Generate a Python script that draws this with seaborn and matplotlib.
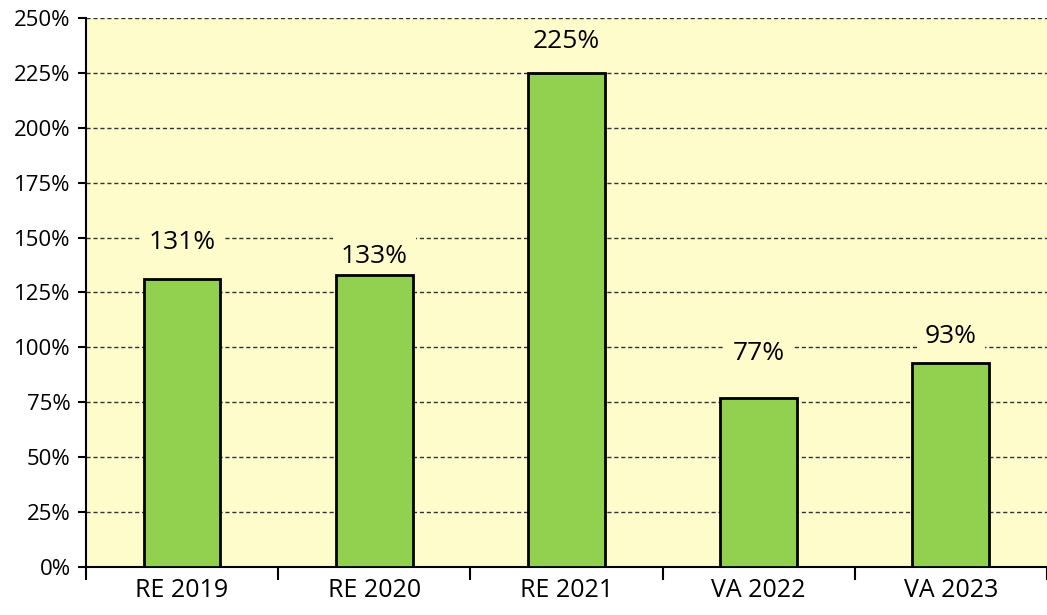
import pandas as pd
import matplotlib.pyplot as plt
import seaborn as sns
from matplotlib.ticker import FixedLocator, PercentFormatter

categories = ["RE 2019", "RE 2020", "RE 2021", "VA 2022", "VA 2023"]
values = [131, 133, 225, 77, 93]

# labels were nudged by hand in the original, gap above each bar in points
label_gap = [22, 8.5, 17.5, 27, 14.5]

df = pd.DataFrame({"year": categories, "pct": values})

sns.set_style("white")
plt.rcParams["font.family"] = ["Open Sans", "DejaVu Sans"]
plt.rcParams["text.color"] = "black"
plt.rcParams["xtick.color"] = "black"
plt.rcParams["ytick.color"] = "black"

fig = plt.figure(figsize=(10.47, 6.15), dpi=100)
ax = fig.add_axes([0.082, 0.078, 0.918, 0.893])
bg = "#FFFCCB"
ax.set_facecolor(bg)

sns.barplot(data=df, x="year", y="pct", color="#92D050", edgecolor="black",
            linewidth=2, width=0.4, saturation=1, ax=ax, zorder=3)

ax.set_xlim(-0.5, len(categories) - 0.5)
ax.set_ylim(0, 250)
ax.set_yticks(range(0, 251, 25))
ax.yaxis.set_major_formatter(PercentFormatter(decimals=0))
ax.grid(axis="y", linestyle=(0, (3, 2)), color="#333333", linewidth=1)
ax.set_axisbelow(True)

# labels above bars, box in background colour hides the grid (but not the bars)
for i, v in enumerate(values):
    ax.annotate(f"{v}%", (i, v), xytext=(0, label_gap[i]), textcoords="offset points",
                ha="center", va="baseline", fontsize=19, color="black", zorder=2,
                bbox=dict(boxstyle="square,pad=0.3", fc=bg, ec="none"))

# tick marks between categories, labels at centres
ax.xaxis.set_minor_locator(FixedLocator([x - 0.5 for x in range(len(categories) + 1)]))
ax.tick_params(axis="x", which="major", length=0, labelsize=18, pad=8)
ax.tick_params(axis="x", which="minor", length=9, width=1.5, color="black", direction="out")
ax.tick_params(axis="y", length=6, width=1.5, color="black", direction="out", labelsize=16, pad=5)
ax.xaxis.set_ticks_position("bottom")
ax.yaxis.set_ticks_position("left")

for side in ["top", "right"]:
    ax.spines[side].set_visible(False)
for side in ["left", "bottom"]:
    ax.spines[side].set_color("black")
    ax.spines[side].set_linewidth(1.5)

ax.set_xlabel("")
ax.set_ylabel("")

fig.savefig("out.png", dpi=100)
